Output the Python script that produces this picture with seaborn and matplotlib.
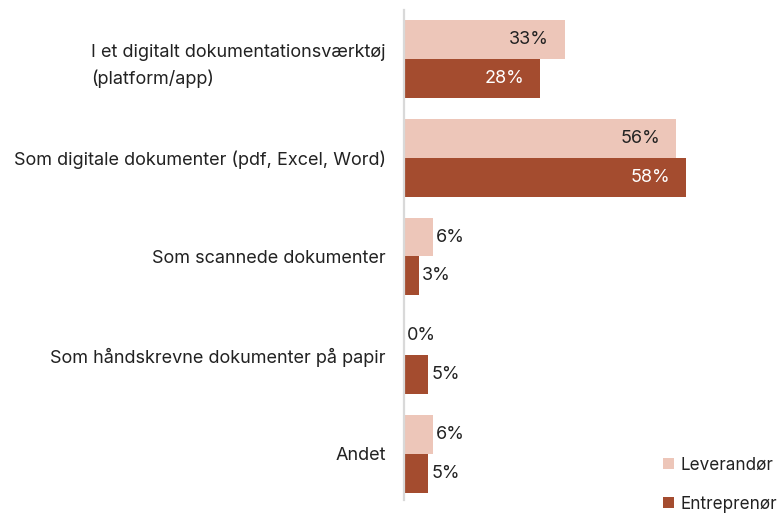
import matplotlib
matplotlib.use("Agg")
import matplotlib.pyplot as plt
import seaborn as sns
import pandas as pd
from matplotlib.patches import Patch

categories = [
    "I et digitalt dokumentationsværktøj\n(platform/app)",
    "Som digitale dokumenter (pdf, Excel, Word)",
    "Som scannede dokumenter",
    "Som håndskrevne dokumenter på papir",
    "Andet",
]
series_names = ["Leverandør", "Entreprenør"]
leverandor = [33, 56, 6, 0, 6]
entreprenor = [28, 58, 3, 5, 5]
colors = ["#EDC6B9", "#A44C2F"]

rows = []
for c, a, b in zip(categories, leverandor, entreprenor):
    rows.append({"Kategori": c, "Gruppe": series_names[0], "Andel": a})
    rows.append({"Kategori": c, "Gruppe": series_names[1], "Andel": b})
df = pd.DataFrame(rows)

sns.set_theme(style="white")
plt.rcParams["font.family"] = ["Inter", "DejaVu Sans"]

fig = plt.figure(figsize=(7.81, 5.15), dpi=100)
ax = fig.add_axes([404 / 781, 1 - 500 / 515, 1 - 404 / 781, 490 / 515])

sns.barplot(data=df, y="Kategori", x="Andel", hue="Gruppe", orient="h",
            palette=colors, width=0.79, ax=ax, legend=False,
            saturation=1, linewidth=0)

ax.set_xlim(0, 77.5)
ax.set_ylim(4.47, -0.5)
ax.set_xlabel("")
ax.set_ylabel("")
ax.set_xticks([])
for s in ["top", "right", "bottom"]:
    ax.spines[s].set_visible(False)
ax.spines["left"].set_color("#D9D9D9")
ax.spines["left"].set_linewidth(1.6)
ax.tick_params(axis="y", length=0, pad=13, labelsize=13, labelcolor="#222222")
for lab in ax.get_yticklabels():
    lab.set_multialignment("left")
    lab.set_linespacing(1.6)

text_colors_inside = ["#222222", "#FFFFFF"]
for ci, cont in enumerate(ax.containers):
    for bar in cont:
        w = bar.get_width()
        yc = bar.get_y() + bar.get_height() / 2
        label = f"{w:.0f}%"
        if w >= 20:
            ax.annotate(label, (w, yc), xytext=(-16, 0), textcoords="offset pixels",
                        ha="right", va="center", fontsize=13,
                        color=text_colors_inside[ci])
        else:
            ax.annotate(label, (w, yc), xytext=(3, 0), textcoords="offset pixels",
                        ha="left", va="center", fontsize=13, color="#222222")

handles = [Patch(facecolor=c, edgecolor="none") for c in colors]
fig.legend(handles, series_names, loc="upper left",
           bbox_to_anchor=(648 / 781, 1 - 441 / 515), frameon=False,
           fontsize=12.3, handlelength=0.65, handleheight=0.65, handletextpad=0.35,
           labelspacing=1.3, labelcolor="#222222")

fig.savefig("out.png", dpi=100)
